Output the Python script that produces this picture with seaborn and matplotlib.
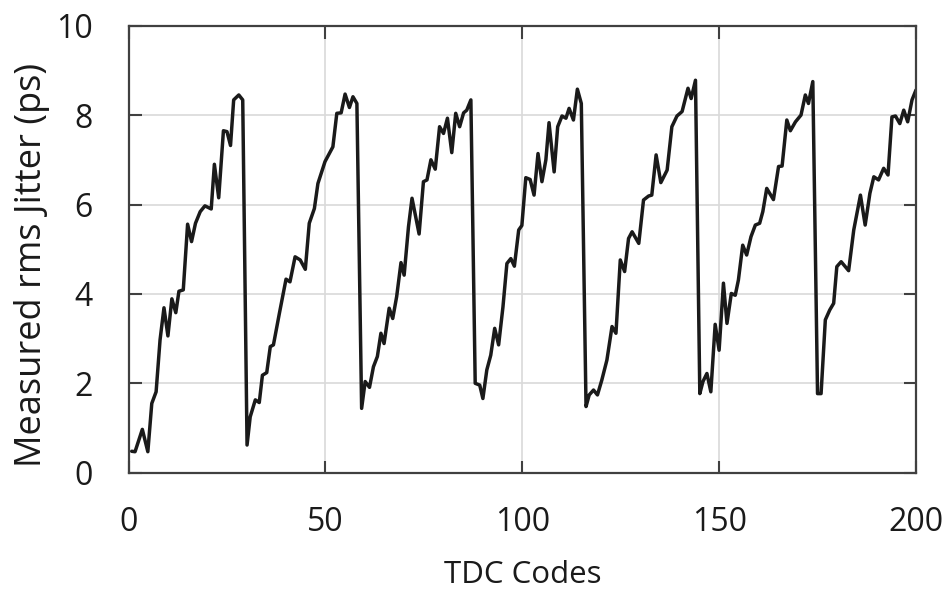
import matplotlib
matplotlib.use("Agg")
import matplotlib.pyplot as plt
import seaborn as sns
import pandas as pd

codes = [0.8, 1.65, 3.5, 4.9, 5.9, 7, 8, 9, 10, 11, 12, 12.8, 13.9, 15, 16, 17, 18.2, 19.4, 21, 21.8,
         22.9, 24.1, 25, 25.9, 26.7, 28, 29, 30.1, 30.9, 32.2, 33.2, 34, 35.1, 36, 36.8, 38.3, 40, 41,
         42.3, 43.6, 44.9, 45.9, 47.2, 48.1, 49.9, 51.9, 52.9, 54, 55, 56.1, 57, 58, 59.2, 60.1, 61.2,
         62.2, 63.2, 64.1, 64.9, 66.2, 67.1, 68.1, 69.2, 70, 71.1, 72, 73.8, 74.9, 75.8, 76.8, 77.9,
         79, 80, 81, 82.1, 83.1, 84.1, 85.1, 85.9, 86.95, 88.05, 89.2, 90, 91, 92, 93, 94, 95.1, 96.1,
         97.1, 98, 99.1, 99.9, 100.9, 102, 103, 104, 105, 106, 106.8, 108.1, 109, 110.1, 111.1, 111.9,
         113, 114, 115, 116.2, 117, 118.1, 119.1, 120.2, 121.5, 122.8, 123.8, 124.9, 126, 127, 127.9,
         129.6, 130.8, 132.1, 132.9, 134, 135.2, 136.8, 138, 139.3, 140.6, 142.1, 142.9, 144, 145.1,
         145.9, 146.9, 147.9, 149, 150, 151.1, 152, 153.1, 154.1, 154.9, 156, 157, 158.1, 159.2, 160.3,
         161.1, 162.1, 163.8, 165.1, 166, 167.2, 168.1, 169.4, 170.8, 171.9, 172.7, 173.8, 175, 175.9,
         176.98, 178.1, 179.1, 179.9, 181, 182.9, 184.2, 185.9, 187.1, 188.3, 189.3, 190.5, 191.8,
         192.9, 193.9, 194.8, 195.9, 196.9, 197.9, 199, 200]

jitter = [0.48, 0.47, 0.97, 0.47, 1.55, 1.81, 2.97, 3.69, 3.06, 3.89, 3.58, 4.06, 4.09, 5.56, 5.17, 5.58,
          5.84, 5.97, 5.9, 6.9, 6.15, 7.65, 7.63, 7.32, 8.34, 8.45, 8.34, 0.62, 1.25, 1.63, 1.57, 2.18,
          2.24, 2.82, 2.86, 3.56, 4.33, 4.27, 4.83, 4.76, 4.55, 5.58, 5.91, 6.47, 6.96, 7.29, 8.04, 8.05,
          8.47, 8.17, 8.41, 8.26, 1.44, 2.04, 1.91, 2.37, 2.6, 3.12, 2.89, 3.68, 3.45, 3.94, 4.7, 4.42,
          5.5, 6.14, 5.34, 6.51, 6.55, 7.0, 6.79, 7.74, 7.59, 7.93, 7.16, 8.04, 7.74, 8.05, 8.11, 8.34,
          2.0, 1.96, 1.66, 2.3, 2.63, 3.23, 2.86, 3.71, 4.68, 4.79, 4.62, 5.43, 5.53, 6.6, 6.56, 6.21,
          7.14, 6.51, 7.0, 7.83, 6.73, 7.74, 7.98, 7.93, 8.15, 7.89, 8.58, 8.26, 1.48, 1.74, 1.85, 1.74,
          2.07, 2.52, 3.27, 3.12, 4.76, 4.5, 5.24, 5.39, 5.13, 6.1, 6.19, 6.21, 7.11, 6.49, 6.77, 7.74,
          7.98, 8.08, 8.6, 8.37, 8.78, 1.77, 2.04, 2.22, 1.81, 3.32, 2.74, 4.24, 3.34, 4.01, 3.97, 4.31,
          5.09, 4.87, 5.28, 5.54, 5.58, 5.84, 6.36, 6.11, 6.85, 6.86, 7.89, 7.65, 7.85, 8.0, 8.45, 8.26,
          8.75, 1.77, 1.77, 3.42, 3.64, 3.79, 4.61, 4.72, 4.52, 5.43, 6.21, 5.54, 6.25, 6.62, 6.55, 6.81,
          6.66, 7.96, 7.98, 7.81, 8.11, 7.85, 8.34, 8.56]

x_ticks = [0, 50, 100, 150, 200]
y_ticks = [0, 2, 4, 6, 8, 10]
x_label = "TDC Codes"
y_label = "Measured rms Jitter (ps)"

df = pd.DataFrame({"code": codes, "jitter": jitter})

sns.set_style("white")
plt.rcParams["font.family"] = ["Open Sans", "DejaVu Sans"]

fig = plt.figure(figsize=(9.48, 5.89), dpi=100)
ax = fig.add_axes([0.1356, 0.1974, 0.8306, 0.759])

sns.lineplot(data=df, x="code", y="jitter", ax=ax, color="#1a1a1a", linewidth=2.5,
             estimator=None, sort=False)
for l in ax.lines:
    l.set_solid_joinstyle("round")
    l.set_solid_capstyle("round")

ax.set_xlim(0, 200)
ax.set_ylim(0, 10)
ax.set_xticks(x_ticks)
ax.set_yticks(y_ticks)
ax.grid(True, color="#d9d9d9", linewidth=1.2)
ax.set_axisbelow(True)

for s in ax.spines.values():
    s.set_color("#404040")
    s.set_linewidth(1.6)
    s.set_visible(True)

ax.tick_params(axis="both", which="both", direction="in", length=9, width=1.5,
               color="#404040", top=True, right=True, bottom=True, left=True,
               labelsize=23, labelcolor="#1a1a1a")
ax.tick_params(axis="x", pad=24)
ax.tick_params(axis="y", pad=26)

ax.set_xlabel(x_label, fontsize=22.5, color="#1a1a1a", labelpad=15)
ax.set_ylabel(y_label, fontsize=26, color="#1a1a1a")
ax.yaxis.set_label_coords(-0.1, 0.465)

fig.savefig("out.png", dpi=100, facecolor="white")
